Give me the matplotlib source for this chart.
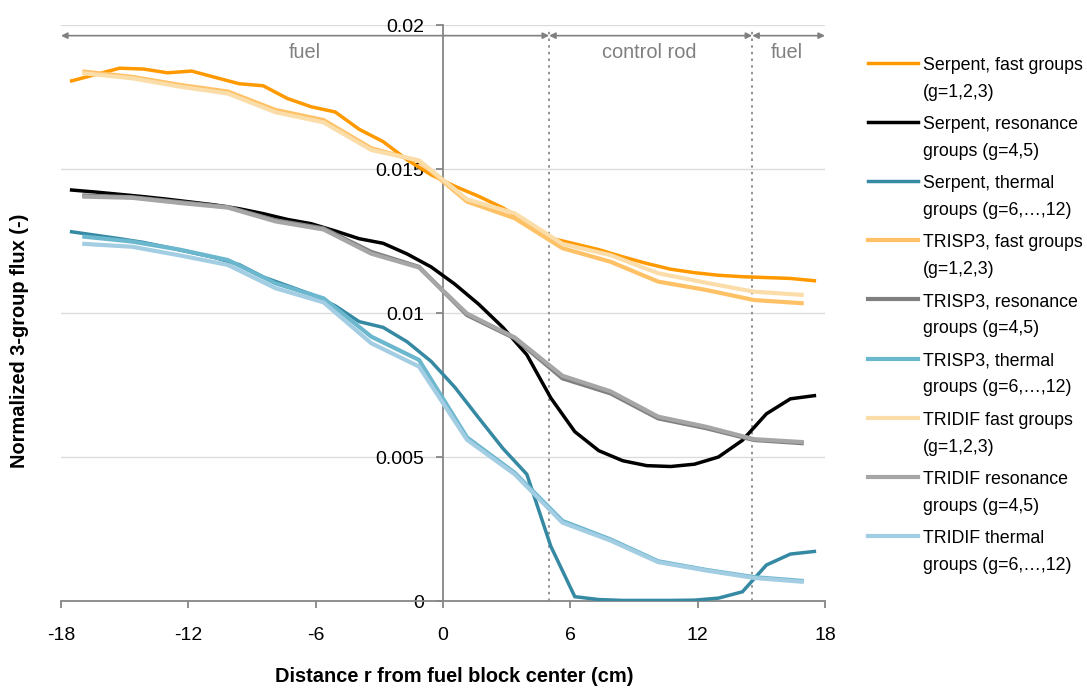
import matplotlib
matplotlib.use('Agg')
import matplotlib.pyplot as plt
from matplotlib import font_manager
from matplotlib.lines import Line2D

# Serpent mesh (cm) and fluxes
serpent_r = [-17.5, -16.37, -15.24, -14.11, -12.98, -11.85, -10.73, -9.6, -8.47, -7.34, -6.21,
             -5.08, -3.95, -2.82, -1.69, -0.56, 0.56, 1.69, 2.82, 3.95, 5.08, 6.21, 7.34, 8.47,
             9.6, 10.73, 11.85, 12.98, 14.11, 15.24, 16.37, 17.5]
serpent_fast = [0.01806, 0.01828, 0.01850, 0.01847, 0.01834, 0.01840, 0.01818, 0.01796, 0.01789,
                0.01745, 0.01716, 0.01698, 0.01638, 0.01595, 0.01532, 0.01480, 0.01440, 0.01405,
                0.01365, 0.01315, 0.01260, 0.01240, 0.01220, 0.01195, 0.01172, 0.01152, 0.01140,
                0.01131, 0.01126, 0.01123, 0.01120, 0.01112]
serpent_res = [0.01427, 0.01420, 0.01412, 0.01404, 0.01395, 0.01385, 0.01375, 0.01362, 0.01345,
               0.01325, 0.01310, 0.01285, 0.01258, 0.01242, 0.01205, 0.01160, 0.01100, 0.01030,
               0.00950, 0.00855, 0.00705, 0.00588, 0.00522, 0.00487, 0.00470, 0.00467, 0.00475,
               0.00500, 0.00558, 0.00650, 0.00702, 0.00713]
serpent_therm = [0.01282, 0.01270, 0.01258, 0.01245, 0.01228, 0.01210, 0.01192, 0.01168, 0.01125,
                 0.01095, 0.01065, 0.01025, 0.00970, 0.00950, 0.00900, 0.00832, 0.00742, 0.00635,
                 0.00530, 0.00440, 0.00190, 0.00015, 0.00005, 0.00002, 0.00002, 0.00002, 0.00003,
                 0.00010, 0.00032, 0.00125, 0.00163, 0.00172]

# TRISP3 / TRIDIF mesh (cm) and fluxes
tri_r = [-16.9, -14.65, -12.4, -10.14, -7.89, -5.63, -3.38, -1.13, 1.13, 3.38, 5.63, 7.89,
         10.14, 12.4, 14.65, 16.9]
trisp3_fast = [0.01838, 0.01820, 0.01792, 0.01769, 0.01705, 0.01670, 0.01572, 0.01527, 0.01387,
               0.01329, 0.01225, 0.01178, 0.01109, 0.01080, 0.01045, 0.01034]
trisp3_res = [0.01408, 0.01402, 0.01385, 0.01368, 0.01322, 0.01294, 0.01212, 0.01160, 0.00993,
              0.00912, 0.00773, 0.00721, 0.00634, 0.00600, 0.00559, 0.00548]
trisp3_therm = [0.01265, 0.01248, 0.01220, 0.01184, 0.01103, 0.01051, 0.00918, 0.00837, 0.00568,
                0.00445, 0.00278, 0.00214, 0.00138, 0.00108, 0.00083, 0.00070]
tridif_fast = [0.01832, 0.01815, 0.01786, 0.01762, 0.01697, 0.01662, 0.01566, 0.01530, 0.01395,
               0.01346, 0.01240, 0.01201, 0.01138, 0.01105, 0.01074, 0.01063]
tridif_res = [0.01404, 0.01400, 0.01382, 0.01366, 0.01318, 0.01290, 0.01206, 0.01158, 0.00998,
              0.00915, 0.00782, 0.00728, 0.00640, 0.00605, 0.00562, 0.00552]
tridif_therm = [0.01240, 0.01230, 0.01200, 0.01167, 0.01086, 0.01037, 0.00895, 0.00814, 0.00560,
                0.00440, 0.00272, 0.00210, 0.00135, 0.00106, 0.00080, 0.00067]

labels = ['Serpent, fast groups\n(g=1,2,3)', 'Serpent, resonance\ngroups (g=4,5)',
          'Serpent, thermal\ngroups (g=6,…,12)', 'TRISP3, fast groups\n(g=1,2,3)',
          'TRISP3, resonance\ngroups (g=4,5)', 'TRISP3, thermal\ngroups (g=6,…,12)',
          'TRIDIF fast groups\n(g=1,2,3)', 'TRIDIF resonance\ngroups (g=4,5)',
          'TRIDIF thermal\ngroups (g=6,…,12)']
colors = ['#FF9900', '#000000', '#3589A3', '#FFC166', '#7F7F7F', '#6BB7CE',
          '#FBDDA9', '#A6A6A6', '#A2CDE2']

# region boundaries (cm)
boundaries = [-18, 5, 14.57, 18]
regions = ['fuel', 'control rod', 'fuel']

W, H = 1087, 692

names = {f.name for f in font_manager.fontManager.ttflist}
if 'Liberation Sans Narrow' in names:
    font, k, leg_size = 'Liberation Sans Narrow', 1.0, 15.7
else:
    font, k, leg_size = 'Liberation Sans', 0.85, 12.8
plt.rcParams['font.family'] = [font, 'DejaVu Sans']

fig = plt.figure(figsize=(W / 100, H / 100), dpi=100)
ax = fig.add_axes([61 / W, 1 - 601 / H, 764 / W, 576 / H])

series = [(serpent_r, serpent_fast), (serpent_r, serpent_res), (serpent_r, serpent_therm),
          (tri_r, trisp3_fast), (tri_r, trisp3_res), (tri_r, trisp3_therm),
          (tri_r, tridif_fast), (tri_r, tridif_res), (tri_r, tridif_therm)]
widths = [2.5] * 3 + [3.0] * 6
for (x, y), c, lw in zip(series, colors, widths):
    ax.plot(x, y, color=c, lw=lw, solid_joinstyle='miter', zorder=3)

ax.set_xlim(-18, 18)
ax.set_ylim(0, 0.02)
ax.set_xticks([-18, -12, -6, 0, 6, 12, 18])
ax.set_xticklabels(['-18', '-12', '-6', '0', '6', '12', '18'])
ax.set_yticks([0, 0.005, 0.01, 0.015, 0.02])
ax.set_yticklabels(['0', '0.005', '0.01', '0.015', '0.02'])
ax.yaxis.grid(True, color='#DCDCDC', lw=1.0)
ax.set_axisbelow(True)

for s in ['top', 'right']:
    ax.spines[s].set_visible(False)
ax.spines['left'].set_position(('data', 0))
for s in ['left', 'bottom']:
    ax.spines[s].set_color('#868686')
    ax.spines[s].set_linewidth(1.3)
ax.tick_params(axis='both', colors='#868686', labelcolor='black', width=1.3, length=5,
               labelsize=16.5 * k)
ax.tick_params(axis='y', pad=8.5)
ax.tick_params(axis='x', pad=14)

# region markers
ya = 0.01963
for xb in boundaries[1:3]:
    ax.plot([xb, xb], [0, 0.0199], color='#808080', lw=1.2, ls=(0, (1.5, 2.5)), zorder=2)
for i in range(3):
    ax.annotate('', xy=(boundaries[i], ya), xytext=(boundaries[i + 1], ya),
                arrowprops=dict(arrowstyle='<|-|>', color='#808080', lw=1.2,
                                mutation_scale=9, shrinkA=0, shrinkB=0))
region_x = [-6.5, 9.7, 16.2]
for xt, txt in zip(region_x, regions):
    ax.text(xt, 0.01885, txt, ha='center', va='baseline', color='#808080', fontsize=17 * k)

fig.text(454 / W, 1 - 677 / H, 'Distance r from fuel block center (cm)', ha='center',
         va='center', fontweight='bold', fontsize=17 * k)
fig.text(20 / W, 1 - 341 / H, 'Normalized 3-group flux (-)', ha='center', va='center',
         rotation=90, fontweight='bold', fontsize=17 * k)

# legend drawn by hand: handle next to the first line of each label
for i, (lab, c, lw) in enumerate(zip(labels, colors, widths)):
    yc = 63 + 59.1 * i
    fig.add_artist(Line2D([868 / W, 918 / W], [1 - yc / H] * 2, color=c, lw=lw,
                          transform=fig.transFigure))
    for j, part in enumerate(lab.split('\n')):
        fig.text(923 / W, 1 - (yc + 7 + 27 * j) / H, part, ha='left', va='baseline',
                 fontsize=leg_size)

fig.savefig('out.png', dpi=100)
